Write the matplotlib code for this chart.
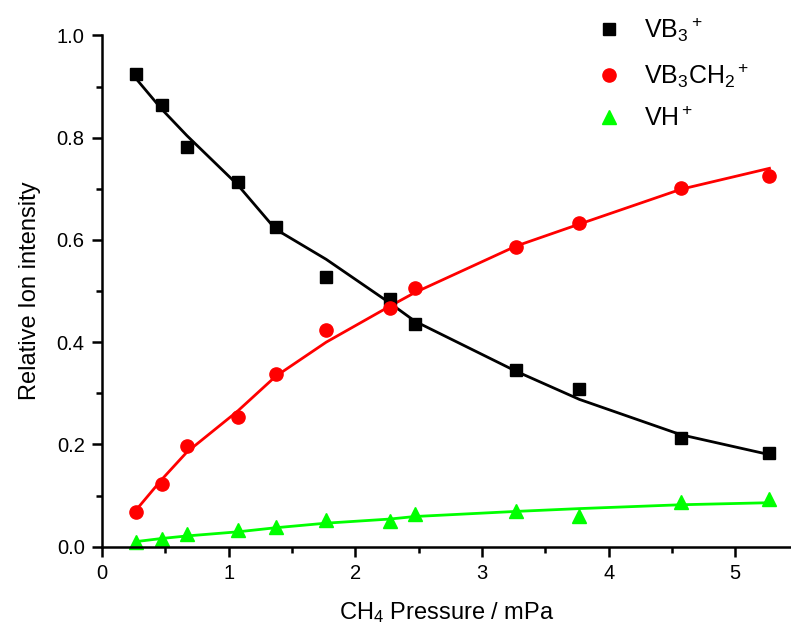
import matplotlib
matplotlib.use("Agg")
import matplotlib.pyplot as plt
import matplotlib.ticker as mticker

# ── Data ──────────────────────────────────────────────
pressure = [0.27, 0.47, 0.67, 1.07, 1.37, 1.77, 2.27, 2.47, 3.27, 3.77, 4.57, 5.27]

vb3 = [0.924, 0.863, 0.782, 0.714, 0.626, 0.527, 0.485, 0.435, 0.346, 0.309, 0.213, 0.184]
vb3ch2 = [0.067, 0.123, 0.196, 0.254, 0.337, 0.424, 0.467, 0.505, 0.586, 0.633, 0.702, 0.725]
vh = [0.010, 0.015, 0.024, 0.033, 0.039, 0.052, 0.051, 0.064, 0.070, 0.060, 0.088, 0.093]

vb3_fit = [0.915, 0.856, 0.804, 0.708, 0.621, 0.562, 0.477, 0.441, 0.343, 0.288, 0.219, 0.180]
vb3ch2_fit = [0.072, 0.131, 0.185, 0.265, 0.333, 0.400, 0.470, 0.497, 0.588, 0.631, 0.699, 0.740]
vh_fit = [0.010, 0.016, 0.021, 0.029, 0.037, 0.046, 0.054, 0.059, 0.069, 0.0745, 0.082, 0.086]

labels = [r"VB$_3$$^+$", r"VB$_3$CH$_2$$^+$", r"VH$^+$"]

# ── Style ──────────────────────────────────────────────
plt.rcParams.update({
    "font.family": "Liberation Sans",
    "mathtext.fontset": "custom",
    "mathtext.rm": "Liberation Sans",
    "mathtext.it": "Liberation Sans",
    "mathtext.default": "regular",
    "axes.linewidth": 1.8,
})

BLACK = "#000000"
RED = "#ff0000"
GREEN = "#00ff00"

fig = plt.figure(figsize=(7.91, 6.32), dpi=100)
ax = fig.add_axes([0.129, 0.135, 0.871, 0.809])

ax.plot(pressure, vb3_fit, color=BLACK, lw=2.0)
ax.plot(pressure, vb3ch2_fit, color=RED, lw=2.0)
ax.plot(pressure, vh_fit, color=GREEN, lw=2.0)

h1, = ax.plot(pressure, vb3, "s", color=BLACK, ms=8.5, ls="none", clip_on=False, label=labels[0])
h2, = ax.plot(pressure, vb3ch2, "o", color=RED, ms=9.5, ls="none", clip_on=False, label=labels[1])
h3, = ax.plot(pressure, vh, "^", color=GREEN, ms=10.5, ls="none", clip_on=False, label=labels[2])

ax.set_xlim(0, 5.44)
ax.set_ylim(0, 1.0)
ax.xaxis.set_major_locator(mticker.MultipleLocator(1))
ax.xaxis.set_minor_locator(mticker.MultipleLocator(0.5))
ax.yaxis.set_major_locator(mticker.MultipleLocator(0.2))
ax.yaxis.set_minor_locator(mticker.MultipleLocator(0.1))
ax.yaxis.set_major_formatter(mticker.FormatStrFormatter("%.1f"))

ax.spines["top"].set_visible(False)
ax.spines["right"].set_visible(False)
ax.tick_params(which="major", direction="out", length=7.5, width=1.8, labelsize=14.5, pad=5)
ax.tick_params(which="minor", direction="out", length=4.5, width=1.8)

ax.set_xlabel(r"CH$_4$ Pressure / mPa", fontsize=17, labelpad=12)
ax.set_ylabel("Relative Ion intensity", fontsize=17, labelpad=11)

ax.legend(handles=[h1, h2, h3], frameon=False, fontsize=18,
          loc="upper left", bbox_to_anchor=(0.700, 1.058),
          handletextpad=0.8, labelspacing=0.68, handlelength=1.2,
          borderaxespad=0)

fig.savefig("out.png", dpi=100)
